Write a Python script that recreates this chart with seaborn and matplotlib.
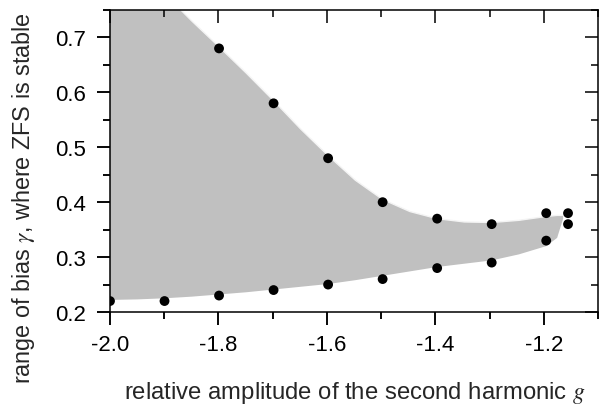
import numpy as np
import pandas as pd
import matplotlib
matplotlib.use("Agg")
import matplotlib.pyplot as plt
import seaborn as sns

# computed points (black dots)
g_low = [-2.0, -1.9, -1.8, -1.7, -1.6, -1.5, -1.4, -1.3, -1.2, -1.16]
gamma_low = [0.22, 0.22, 0.23, 0.24, 0.25, 0.26, 0.28, 0.29, 0.33, 0.36]
g_up = [-1.8, -1.7, -1.6, -1.5, -1.4, -1.3, -1.2, -1.16]
gamma_up = [0.68, 0.58, 0.48, 0.40, 0.37, 0.36, 0.38, 0.38]

# boundary of the stable region
g_edge = [-2.0, -1.95, -1.9, -1.85, -1.8, -1.75, -1.7, -1.65, -1.6, -1.55,
          -1.5, -1.45, -1.4, -1.35, -1.3, -1.25, -1.2, -1.18, -1.169]
edge_up = [0.90, 0.84, 0.78, 0.73, 0.683, 0.635, 0.585, 0.533, 0.485, 0.44,
           0.405, 0.383, 0.37, 0.364, 0.363, 0.367, 0.374, 0.376, 0.376]
edge_low = [0.222, 0.223, 0.225, 0.228, 0.232, 0.236, 0.241, 0.246, 0.251, 0.258,
            0.266, 0.274, 0.282, 0.288, 0.294, 0.305, 0.32, 0.335, 0.37]

xmaj = [-2.0, -1.8, -1.6, -1.4, -1.2]
xmaj_labels = ['-2.0', '-1.8', '-1.6', '-1.4', '-1.2']
xmin = [-1.9, -1.7, -1.5, -1.3, -1.1]
ymaj = [0.2, 0.3, 0.4, 0.5, 0.6, 0.7]
ymin = [0.25, 0.35, 0.45, 0.55, 0.65, 0.75]
xlim = (-2.0, -1.105)
ylim = (0.2, 0.75)

sns.set_style("ticks")
plt.rcParams['font.family'] = ['Liberation Sans', 'DejaVu Sans']
plt.rcParams['mathtext.fontset'] = 'stix'

rect = [0.1827, 0.229, 0.8107, 0.744]
fig = plt.figure(figsize=(6.02, 4.06), dpi=100)
ax = fig.add_axes(rect)

# stable region as one polygon: upper edge, then lower edge backwards
poly_x = g_edge + g_edge[::-1]
poly_y = edge_up + edge_low[::-1]
ax.fill(poly_x, poly_y, color='#c0c0c0', lw=0, zorder=1)
ax.plot(g_edge, edge_up, color='#f4f4f4', lw=1.0, zorder=2)

pts = pd.DataFrame({'g': g_low + g_up, 'gamma': gamma_low + gamma_up})
sns.scatterplot(data=pts, x='g', y='gamma', color='black', s=50,
                edgecolor='none', ax=ax, zorder=3)

ax.set_xlim(*xlim)
ax.set_ylim(*ylim)
ax.set_xlabel('')
ax.set_ylabel('')
ax.tick_params(which='both', bottom=False, left=False,
               labelbottom=False, labelleft=False)
for sp in ax.spines.values():
    sp.set_visible(False)


def frame(a, direction):
    a.patch.set_visible(False)
    a.set_xlim(*xlim)
    a.set_ylim(*ylim)
    a.set_xticks(xmaj)
    a.set_xticks(xmin, minor=True)
    a.set_yticks(ymaj)
    a.set_yticks(ymin, minor=True)
    a.tick_params(which='major', direction=direction, length=9.5, width=1.1,
                  color='black', labelcolor='black', labelsize=16)
    a.tick_params(which='minor', direction=direction, length=5, width=1.1,
                  color='black')


# frame with labels (outward ticks) on bottom/left
ov = fig.add_axes(rect, label='outer')
frame(ov, 'out')
ov.set_xticklabels(xmaj_labels)
ov.tick_params(which='both', top=False, right=False)
ov.tick_params(axis='x', which='major', pad=6)
ov.tick_params(axis='y', which='major', pad=8)
for sp in ov.spines.values():
    sp.set_linewidth(1.1)
    sp.set_color('black')
    sp.set_visible(True)

# inward ticks on top/right
ovi = fig.add_axes(rect, label='inner')
frame(ovi, 'in')
ovi.tick_params(which='both', top=True, right=True, bottom=False, left=False,
                labelbottom=False, labelleft=False)
for sp in ovi.spines.values():
    sp.set_visible(False)

# visible outward tick marks: thin strips just outside the frame
hb = 13.5 / 406
wl = 13.5 / 602
axb = fig.add_axes([rect[0], rect[1] - hb, rect[2], hb], label='btm')
frame(axb, 'in')
axb.tick_params(which='both', top=True, bottom=False, left=False, right=False,
                labelbottom=False, labelleft=False)
axb.set_yticks([])
axb.set_yticks([], minor=True)
axl = fig.add_axes([rect[0] - wl, rect[1], wl, rect[3]], label='lft')
frame(axl, 'in')
axl.tick_params(which='both', right=True, left=False, top=False, bottom=False,
                labelbottom=False, labelleft=False)
axl.set_xticks([])
axl.set_xticks([], minor=True)
for a in (axb, axl):
    for sp in a.spines.values():
        sp.set_visible(False)

ov.set_xlabel(r'relative amplitude of the second harmonic $g$', fontsize=17.2)
ov.set_ylabel(r'range of bias $\gamma$, where ZFS is stable', fontsize=16.8)
ov.xaxis.set_label_coords(0.501, -0.222)
ov.yaxis.set_label_coords(-0.15, 0.381)

fig.savefig('out.png', dpi=100)
